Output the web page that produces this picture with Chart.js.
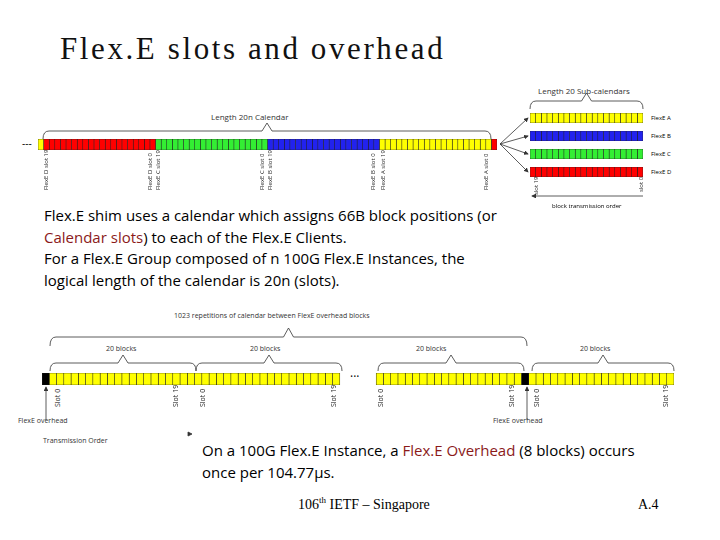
<!DOCTYPE html>
<html><head><meta charset="utf-8">
<script src="https://cdn.jsdelivr.net/npm/chart.js@4"></script>
<style>
body{margin:0;width:720px;height:540px;background:#fff;position:relative;overflow:hidden;font-family:"Open Sans",sans-serif}
canvas{position:absolute}
.t{position:absolute;white-space:nowrap;color:#000}
.v{position:absolute;white-space:nowrap;font-size:6px;transform-origin:0 0;transform:rotate(-90deg);color:#222}
.s{font-family:"Liberation Serif",serif}
.red{color:#8b1a1a}
</style></head>
<body>
<div class="t s" style="left:60px;top:31px;font-size:31px;letter-spacing:2.6px;font-weight:300;color:#111">Flex.E slots and overhead</div>

<div class="t" style="left:211px;top:111px;font-size:8px;color:#333">Length 20n Calendar</div>
<div class="t" style="left:538px;top:85px;font-size:8px;color:#333">Length 20 Sub-calendars</div>
<div class="t" style="left:22px;top:136px;font-size:10px">---</div>

<div class="t" style="left:44px;top:205px;font-size:15px;line-height:21.5px">Flex.E shim uses a calendar which assigns 66B block positions (or<br><span class="red">Calendar slots</span>) to each of the Flex.E Clients.<br>For a Flex.E Group composed of n 100G Flex.E Instances, the<br>logical length of the calendar is 20n (slots).</div>

<div class="t" style="left:174px;top:311px;font-size:7px;color:#333">1023 repetitions of calendar between FlexE overhead blocks</div>
<div class="t" style="left:106px;top:344px;font-size:7px;color:#333">20 blocks</div>
<div class="t" style="left:250px;top:344px;font-size:7px;color:#333">20 blocks</div>
<div class="t" style="left:416px;top:344px;font-size:7px;color:#333">20 blocks</div>
<div class="t" style="left:580px;top:344px;font-size:7px;color:#333">20 blocks</div>
<div class="t" style="left:350px;top:368px;font-size:12px">···</div>
<div class="t" style="left:18px;top:416px;font-size:7px;color:#333">FlexE overhead</div>
<div class="t" style="left:493px;top:416px;font-size:7px;color:#333">FlexE overhead</div>
<div class="t" style="left:43px;top:436px;font-size:7px;color:#333">Transmission Order</div>

<div class="t" style="left:202px;top:439px;font-size:15px;line-height:22px">On a 100G Flex.E Instance, a <span class="red">Flex.E Overhead</span> (8 blocks) occurs<br>once per 104.77μs.</div>
<div class="t s" style="left:298px;top:495px;font-size:14px">106<sup style="font-size:9px">th</sup> IETF – Singapore</div>
<div class="t s" style="left:638px;top:497px;font-size:14px">A.4</div>

<svg width="720" height="540" style="position:absolute;left:0;top:0" fill="none" stroke="#333" stroke-width="0.8">
<defs><marker id="ah" markerWidth="6" markerHeight="6" refX="5" refY="3" orient="auto"><path d="M0,0 L6,3 L0,6 z" fill="#333" stroke="none"/></marker></defs>
</svg>

<canvas id="calTop" width="459" height="11" style="left:38px;top:139px"></canvas>
<canvas id="subA" width="113" height="10" style="left:530px;top:113px"></canvas>
<canvas id="subB" width="113" height="10" style="left:530px;top:131px"></canvas>
<canvas id="subC" width="113" height="10" style="left:530px;top:149px"></canvas>
<canvas id="subD" width="113" height="10" style="left:530px;top:167px"></canvas>
<canvas id="calBot" width="632" height="12" style="left:42px;top:373px"></canvas>

<script>
// calendar segments: [colour, number of blocks]
const topSegColors = ['#ffff00','#ff0000','#33ee33','#2222ee','#ffff00','#ff0000']
const topSegCounts = [1, 20, 20, 20, 20, 1]
const subNames = ['FlexE A','FlexE B','FlexE C','FlexE D']
const subColors = ['#ffff00','#2222ee','#33ee33','#ff0000']
const subCount = 20
// bottom strip: overhead, 20, 20, gap, 20, overhead, 20
const botSegColors = ['#000000','#ffff00','#ffff00','gap','#ffff00','#000000','#ffff00']
const botSegCounts = [1, 20, 20, 5, 20, 1, 20]
const topLabels = ['FlexE D slot 19','FlexE D slot 0','FlexE C slot 19','FlexE C slot 0','FlexE B slot 19','FlexE B slot 0','FlexE A slot 19','FlexE A slot 0']

function makeStrip(id, colors, counts){
  const datasets = []
  let total = 0
  colors.forEach((c, k) => {
    const n = counts[k]
    if (c == 'gap') {
      datasets.push({data:[n], backgroundColor:'rgba(0,0,0,0)', borderWidth:0})
    } else {
      for (let j = 0; j < n; j++) {
        datasets.push({data:[1], backgroundColor:c, borderColor:'#222', borderWidth:0.6})
      }
    }
    total += n
  })
  new Chart(document.getElementById(id).getContext('2d'), {
    type:'bar',
    data:{labels:[''], datasets:datasets},
    options:{
      indexAxis:'y', responsive:false, animation:false,
      layout:{padding:0},
      datasets:{bar:{barPercentage:1, categoryPercentage:1, borderSkipped:false}},
      plugins:{legend:{display:false}, tooltip:{enabled:false}},
      scales:{
        x:{stacked:true, min:0, max:total, display:false},
        y:{stacked:true, display:false}
      }
    }
  })
}

makeStrip('calTop', topSegColors, topSegCounts)
subColors.forEach((c, k) => makeStrip('sub' + 'ABCD'[k], [c], [subCount]))
makeStrip('calBot', botSegColors, botSegCounts)

// text labels around the strips
function addText(cls, txt, x, y, size){
  const d = document.createElement('div')
  d.className = cls
  d.textContent = txt
  d.style.left = x + 'px'; d.style.top = y + 'px'
  if (size) d.style.fontSize = size + 'px'
  document.body.appendChild(d)
}
const topLabelX = [42, 146, 154, 258, 266, 369, 379, 482]
topLabels.forEach((t, k) => addText('v', t, topLabelX[k], 190))
subNames.forEach((t, k) => addText('t', t, 651, 114 + k*18, 6))
addText('v', 'slot 19', 532, 195)
addText('v', 'slot 0', 637, 192)
addText('t', 'block transmission order', 552, 202, 6)
const botLabelX = [53, 171, 198, 329, 376, 507, 532, 661]
botLabelX.forEach((x, k) => addText('v', k % 2 ? 'Slot 19' : 'Slot 0', x, 407, 7))

// braces and arrows
function brace(x1, x2, y, h){
  const m = (x1 + x2) / 2
  return `M${x1},${y+h} Q${x1},${y} ${x1+6},${y} L${m-5},${y} L${m},${y-h} L${m+5},${y} L${x2-6},${y} Q${x2},${y} ${x2},${y+h}`
}
const svg = document.querySelector('svg')
let paths = ''
paths += `<path d="${brace(43,491,131,8)}"/>`
paths += `<path d="${brace(530,643,101,8)}"/>`
paths += `<path d="${brace(50,527,337,9)}"/>`
;[[50,196],[196,342],[378,524],[532,674]].forEach(p => paths += `<path d="${brace(p[0],p[1],363,8)}"/>`)
;[118,136,154,172].forEach(y => paths += `<line x1="500" y1="144" x2="528" y2="${y}" marker-end="url(#ah)"/>`)
paths += `<line x1="643" y1="196" x2="532" y2="196" marker-end="url(#ah)"/>`
paths += `<line x1="46" y1="420" x2="46" y2="387" marker-end="url(#ah)"/>`
paths += `<line x1="527" y1="420" x2="527" y2="387" marker-end="url(#ah)"/>`
paths += `<path d="M188,432 L192,434 L188,436 z" fill="#333"/>`
svg.innerHTML += paths
</script>
</body></html>
